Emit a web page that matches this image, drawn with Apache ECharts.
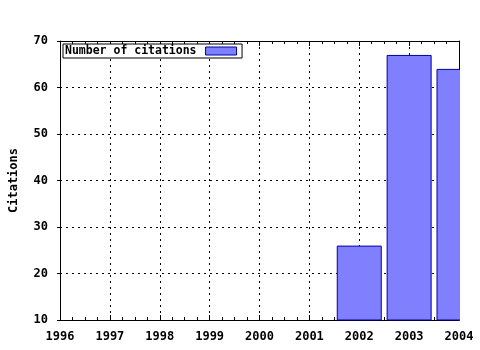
<!DOCTYPE html>
<html><head><meta charset="utf-8">
<script src="https://cdn.jsdelivr.net/npm/echarts@6/dist/echarts.min.js"></script>
<style>html,body{margin:0;padding:0;background:#fff}#c{width:480px;height:350px}</style>
</head><body><div id="c"></div>
<script>
var years = [2002, 2003, 2004];
var citations = [26, 67, 64];
var seriesName = 'Number of citations';
var yTitle = 'Citations';

var font = 'DejaVu Sans Mono';
var chart = echarts.init(document.getElementById('c'), null, {renderer: 'canvas'});
var data = years.map(function (y, i) { return [y, citations[i]]; });
var gridLine = {show: true, lineStyle: {color: '#000', type: [2, 4], width: 1}};
chart.setOption({
  animation: false,
  backgroundColor: '#fff',
  grid: {left: 58, right: 21, top: 41, bottom: 30},
  graphic: [{
    type: 'rect', left: 460, top: 36, z: 100,
    shape: {width: 20, height: 286},
    style: {fill: '#fff'}
  }],
  legend: {
    left: 63, top: 44, itemWidth: 31, itemHeight: 8, itemGap: 0,
    align: 'right', padding: [1, 5, 1, 2], borderColor: '#000', borderWidth: 1,
    backgroundColor: '#fff',
    itemStyle: {borderWidth: 1},
    textStyle: {fontFamily: font, fontWeight: 'bold', fontSize: 11.5, color: '#000', padding: [0, 4, 0, 0]},
    data: [{name: seriesName, icon: 'rect'}]
  },
  xAxis: [{
    type: 'value', min: 1996, max: 2004, interval: 1, position: 'bottom',
    axisLine: {show: true, onZero: false, lineStyle: {color: '#000', width: 1}},
    axisTick: {show: true, inside: true, length: 5, lineStyle: {color: '#000'}},
    minorTick: {show: true, splitNumber: 4, length: 3, lineStyle: {color: '#000'}},
    axisLabel: {fontFamily: font, fontWeight: 'bold', fontSize: 12, color: '#000', margin: 11,
      showMinLabel: true, showMaxLabel: true, formatter: function (v) { return String(v); }},
    splitLine: gridLine
  }, {
    type: 'value', min: 1996, max: 2004, interval: 1, position: 'top',
    axisLine: {show: true, onZero: false, lineStyle: {color: '#000', width: 1}},
    axisTick: {show: true, inside: true, length: 5, lineStyle: {color: '#000'}},
    minorTick: {show: true, splitNumber: 4, length: 3, lineStyle: {color: '#000'}},
    axisLabel: {show: false}, splitLine: {show: false}
  }],
  yAxis: [{
    type: 'value', min: 10, max: 70, interval: 10, position: 'left',
    name: yTitle, nameLocation: 'middle', nameGap: 40, nameRotate: 90,
    nameTextStyle: {fontFamily: font, fontWeight: 'bold', fontSize: 12, color: '#000'},
    axisLine: {show: true, onZero: false, lineStyle: {color: '#000', width: 1}},
    axisTick: {show: true, inside: false, length: 3, lineStyle: {color: '#000'}},
    axisLabel: {fontFamily: font, fontWeight: 'bold', fontSize: 12, color: '#000', margin: 12},
    splitLine: gridLine
  }, {
    type: 'value', min: 10, max: 70, interval: 10, position: 'right',
    axisLine: {show: true, onZero: false, lineStyle: {color: '#000', width: 1}},
    axisTick: {show: false}, axisLabel: {show: false}, splitLine: {show: false}
  }],
  series: [{
    name: seriesName, type: 'bar', xAxisIndex: 0, yAxisIndex: 0,
    data: data, barWidth: 45, clip: true,
    itemStyle: {color: '#8080ff', borderColor: '#0000a0', borderWidth: 1}
  }]
});
</script></body></html>
